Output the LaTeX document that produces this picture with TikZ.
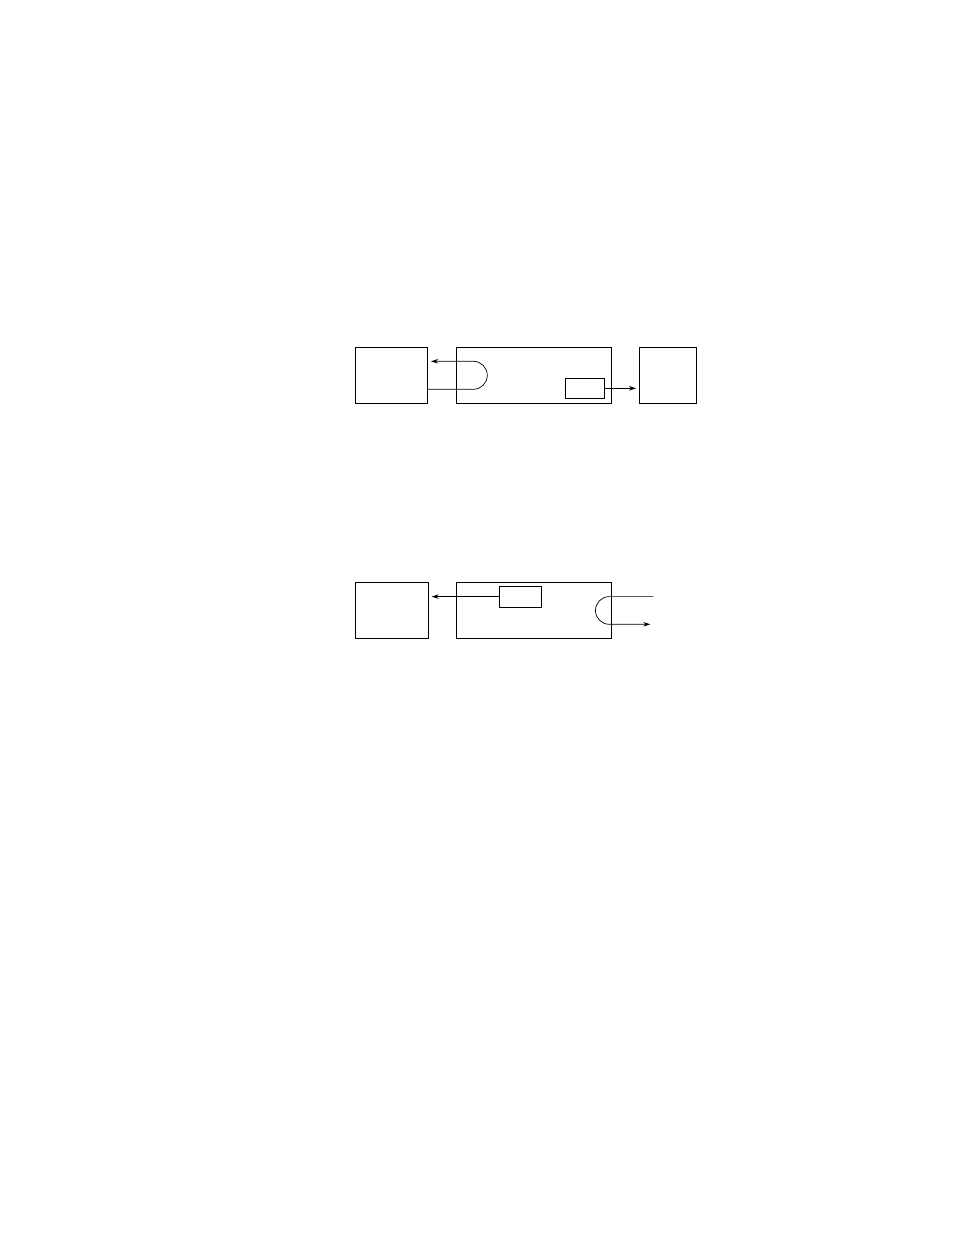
\documentclass[tikz,border=0pt]{standalone}
\usetikzlibrary{arrows.meta}
\begin{document}
\begin{tikzpicture}[x=1pt,y=-1pt,line width=0.7pt,
  blk/.style={draw,rectangle,minimum width=0pt,minimum height=0pt,inner sep=0pt},
  arr/.style={-{Stealth[length=7pt,width=4.5pt]},shorten >=3pt}]
\useasboundingbox (0,0) rectangle (954,1235);
% top row
\node[blk,minimum width=72.4pt,minimum height=55.7pt] (L1) at (391.5,375.2) {};
\node[blk,minimum width=154.7pt,minimum height=55.7pt] (M1) at (533.6,375.2) {};
\node[blk,minimum width=57pt,minimum height=55.7pt] (R1) at (667.8,375.2) {};
\node[blk,minimum width=39pt,minimum height=20pt] (S1) at (584.8,388.3) {};
\coordinate (T1a) at (473.3,361.3);
\coordinate (T1b) at (473.3,389.3);
\draw[arr] (S1.east) -- (R1.west |- S1.east);
\draw[arr] (L1.east |- T1b) -- (T1b) arc[start angle=-90,end angle=90,radius=14pt] -- (L1.east |- T1a);
% bottom row
\node[blk,minimum width=73pt,minimum height=56pt] (L2) at (391.8,610.3) {};
\node[blk,minimum width=154.7pt,minimum height=56pt] (M2) at (533.6,610.3) {};
\node[blk,minimum width=42.3pt,minimum height=21.3pt] (S2) at (520.2,596.6) {};
\coordinate (B2a) at (653.3,596.6);
\coordinate (B2b) at (653.3,624.3);
\draw[arr] (S2.west) -- (L2.east |- S2.west);
\draw[arr] (B2a) -- (609.3,596.6) arc[start angle=90,end angle=270,radius=13.85pt] -- (B2b);
\end{tikzpicture}
\end{document}
